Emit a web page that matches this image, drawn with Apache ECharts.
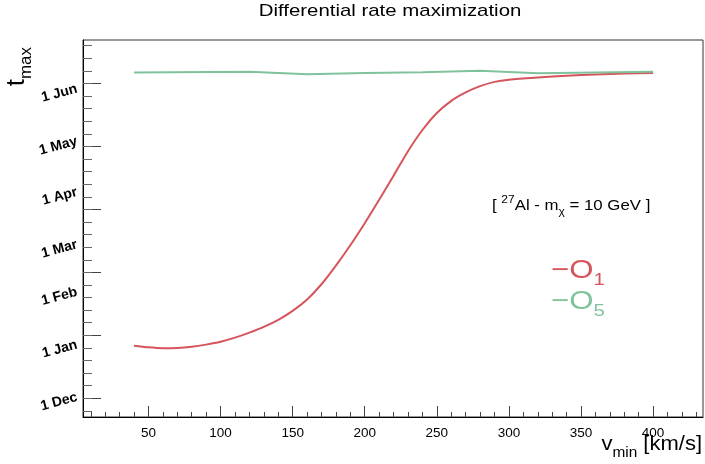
<!DOCTYPE html>
<html><head><meta charset="utf-8">
<script src="https://cdn.jsdelivr.net/npm/echarts@6/dist/echarts.min.js"></script>
<style>html,body{margin:0;padding:0;background:#fff}#c{width:705px;height:464px}</style>
</head><body><div id="c"></div>
<script>
// ---- data (x: v_min in km/s, y: t_max in days after 1 Dec) ----
const vO1 = [40,50,60,70,80,90,100,110,120,130,140,150,160,170,180,190,200,210,220,230,240,250,260,270,280,290,300,320,340,360,380,400];
const tO1 = [30.3,29.3,28.8,28.9,29.6,30.9,32.6,35.0,38.0,41.4,45.5,50.8,57.5,66.5,77.5,89.5,102.5,116.3,130.5,145.0,157.5,167.5,174.7,179.7,183.4,185.9,187.2,188.5,189.5,190.3,190.8,191.1];
const vO5 = [40,120,160,200,240,280,320,360,400];
const tO5 = [191.4,191.9,190.4,191.2,191.6,192.4,191.0,191.5,191.8];
const xTickLabels = [50,100,150,200,250,300,350,400];
const monthNames = ['1 Dec','1 Jan','1 Feb','1 Mar','1 Apr','1 May','1 Jun'];
const monthDays = [0,31,62,90,121,151,182];
const seriesNames = ['O1','O5'];

// ---- axis ranges and tick layout ----
const X_MIN = 4.6, X_MAX = 434.6, Y_MIN = -11.8, Y_MAX = 210.6;
const Y_TICK0 = -0.77, Y_MAJOR = 37.15;
const xMinor = []; for (let v = 10; v < X_MAX; v += 10) xMinor.push(v);
const yMajor = [], yMinor = [];
for (let k = -10; k < 60; k++) {
  const d = Y_TICK0 + k * Y_MAJOR / 5;
  if (d > Y_MIN && d < Y_MAX) { yMinor.push(d); if (k % 5 === 0) yMajor.push(d); }
}
const RED = '#d6545b', GREEN = '#7fc29c';
const FF = 'Liberation Sans, Arial, sans-serif';

const chart = echarts.init(document.getElementById('c'));
const baseX = {type:'value', min:X_MIN, max:X_MAX, splitLine:{show:false}};
const baseY = {type:'value', min:Y_MIN, max:Y_MAX, splitLine:{show:false}};
chart.setOption({
  animation:false,
  grid:{left:83, right:2, top:40, bottom:47, show:true, borderColor:'#333', borderWidth:1},
  xAxis:[
    Object.assign({}, baseX, {position:'bottom',
      axisLine:{show:true, onZero:false, lineStyle:{color:'#000', width:1}},
      axisTick:{show:true, inside:true, length:11, customValues:xTickLabels, lineStyle:{color:'#444'}},
      axisLabel:{show:true, customValues:xTickLabels, fontSize:13.5, color:'#000', margin:9, fontFamily:FF}}),
    Object.assign({}, baseX, {position:'bottom',
      axisLine:{show:false, onZero:false},
      axisTick:{show:true, inside:true, length:5, customValues:xMinor, lineStyle:{color:'#444'}},
      axisLabel:{show:false}})
  ],
  yAxis:[
    Object.assign({}, baseY, {position:'left',
      axisLine:{show:true, onZero:false, lineStyle:{color:'#000', width:1}},
      axisTick:{show:true, inside:true, length:18, customValues:yMajor, lineStyle:{color:'#444'}},
      axisLabel:{show:true, customValues:monthDays, rotate:15, fontSize:14, fontWeight:'bold', color:'#000', margin:6, fontFamily:FF,
        formatter:function(v){ const i = monthDays.indexOf(v); return i >= 0 ? monthNames[i] : ''; }}}),
    Object.assign({}, baseY, {position:'left',
      axisLine:{show:false, onZero:false},
      axisTick:{show:true, inside:true, length:9, customValues:yMinor, lineStyle:{color:'#666'}},
      axisLabel:{show:false}})
  ],
  series:[
    {name:seriesNames[0], type:'line', xAxisIndex:0, yAxisIndex:0, showSymbol:false, smooth:0.3,
     lineStyle:{color:RED, width:2}, itemStyle:{color:RED},
     data:vO1.map((v,i)=>[v,tO1[i]])},
    {name:seriesNames[1], type:'line', xAxisIndex:0, yAxisIndex:0, showSymbol:false, smooth:false,
     lineStyle:{color:GREEN, width:2}, itemStyle:{color:GREEN},
     data:vO5.map((v,i)=>[v,tO5[i]])}
  ],
  graphic:[
    {type:'text', x:390, y:11, scaleX:1.2, style:{text:'Differential rate maximization', fontSize:17, fontFamily:FF, fill:'#000', align:'center', verticalAlign:'middle'}},
    {type:'text', x:17, y:47, rotation:Math.PI/2, style:{text:'{a|t}{b|max}', align:'right', verticalAlign:'middle', fill:'#000',
      rich:{a:{fontSize:26, lineHeight:36, fontFamily:FF, fill:'#000'}, b:{fontSize:17, lineHeight:17, verticalAlign:'bottom', fontFamily:FF, fill:'#000'}}}},
    {type:'text', x:702, y:444, scaleX:1.1, style:{text:'{a|v}{b|min}{a| [km/s]}', align:'right', verticalAlign:'middle', fill:'#000',
      rich:{a:{fontSize:20, lineHeight:32, fontFamily:FF, fill:'#000'}, b:{fontSize:14, lineHeight:14, verticalAlign:'bottom', fontFamily:FF, fill:'#000'}}}},
    {type:'text', x:492, y:206, scaleX:1.2, style:{text:'{b|[ }{p|27}{b|Al - m}{s|χ}{b| = 10 GeV ]}', align:'left', verticalAlign:'middle', fill:'#000',
      rich:{b:{fontSize:14, lineHeight:22, fontFamily:FF, fill:'#000'}, p:{fontSize:10, lineHeight:10, verticalAlign:'top', fontFamily:FF, fill:'#000'}, s:{fontSize:10, lineHeight:13, verticalAlign:'bottom', fontFamily:FF, fill:'#000'}}}},
    {type:'text', x:551, y:271, scaleX:1.2, style:{text:'{a|\u2212O}{b|1}', align:'left', verticalAlign:'middle', fill:RED,
      rich:{a:{fontSize:26, lineHeight:36, fontFamily:FF, fill:RED}, b:{fontSize:17, lineHeight:16, verticalAlign:'bottom', fontFamily:FF, fill:RED}}}},
    {type:'text', x:551, y:302, scaleX:1.2, style:{text:'{a|\u2212O}{b|5}', align:'left', verticalAlign:'middle', fill:GREEN,
      rich:{a:{fontSize:26, lineHeight:36, fontFamily:FF, fill:GREEN}, b:{fontSize:17, lineHeight:16, verticalAlign:'bottom', fontFamily:FF, fill:GREEN}}}}
  ]
});
</script></body></html>
